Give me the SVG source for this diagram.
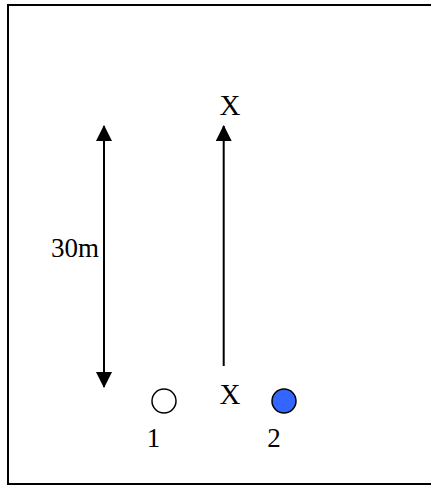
<svg xmlns="http://www.w3.org/2000/svg" width="431" height="485" viewBox="0 0 431 485">
<style>
.t{font-family:"Liberation Serif","Times New Roman",serif;font-size:27px;fill:#000}
.x{font-size:29px}
.c{stroke:#000;stroke-width:2;fill:none}
.n{stroke:#000;stroke-width:1.5}
</style>
<defs>
<marker id="ah" markerUnits="userSpaceOnUse" markerWidth="16" markerHeight="16" viewBox="0 0 16 16" refX="15" refY="8" orient="auto-start-reverse">
<path d="M0,0 L16,8 L0,16 Z" fill="#000"/>
</marker>
</defs>
<rect x="0" y="0" width="431" height="485" fill="#fff"/>
<rect id="frame" x="8" y="5" width="440" height="479" fill="none" stroke="#000" stroke-width="2"/>
<g id="connectors">
<line class="c" x1="104" y1="126" x2="104" y2="387" marker-start="url(#ah)" marker-end="url(#ah)"/>
<line class="c" x1="223.7" y1="366" x2="223.7" y2="126" marker-end="url(#ah)"/>
</g>
<g id="label-30m"><text class="t" x="51" y="257">30m</text></g>
<g id="target-x"><text class="t x" x="230" y="115" text-anchor="middle">X</text></g>
<g id="start-x"><text class="t x" x="230" y="404" text-anchor="middle">X</text></g>
<g id="player-1">
<circle class="n" cx="164" cy="401" r="12" fill="#fff"/>
<text class="t" x="153.5" y="447" text-anchor="middle">1</text>
</g>
<g id="player-2">
<circle class="n" cx="284" cy="401" r="12" fill="#3366ff"/>
<text class="t" x="274" y="447" text-anchor="middle">2</text>
</g>
</svg>
